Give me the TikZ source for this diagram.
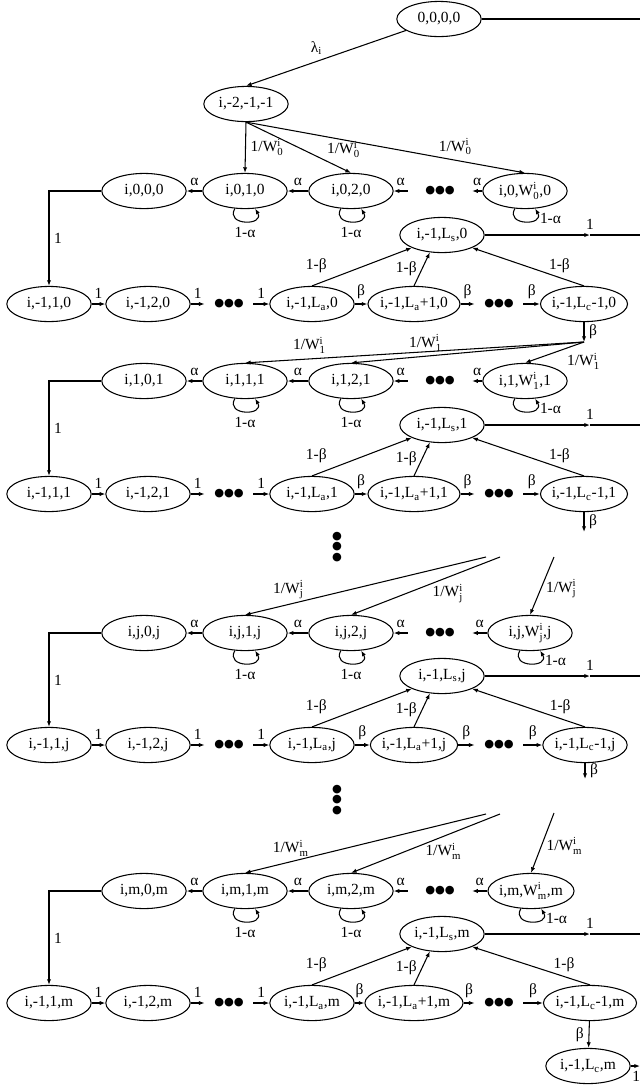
\documentclass[tikz,border=0pt]{standalone}
\usepackage{fontspec}
\setmainfont{Liberation Serif}
\newfontfamily\dotfont{DejaVu Sans}
\usetikzlibrary{arrows.meta,shapes.geometric}
\newcommand{\Wsup}[1]{$\mathrm{W}^{\mathrm{i}}_{\mathrm{#1}}$}
\tikzset{
  st/.style={draw, ellipse, minimum width=60pt, minimum height=25pt, inner xsep=-1pt, inner ysep=1pt},
  hdots/.style={inner sep=0pt, minimum width=34pt, font=\dotfont\fontsize{8}{10}\selectfont},
  vdots/.style={inner sep=0pt, align=center, font=\dotfont\fontsize{8}{7.5}\selectfont},
  selfloop/.style={->, out=-120, in=-60, distance=5mm},
}
\begin{document}
\begin{tikzpicture}[x=0.025cm, y=-0.025cm, >={Latex[length=4pt,width=3pt]}, line width=0.75pt,
  every node/.append style={font=\fontsize{11}{13}\selectfont}]
\useasboundingbox (0,0) rectangle (640,1087);

\node[st] (idle) at (439,19) {0,0,0,0};
\coordinate (idleR) at (640,19);
\node[st] (init) at (246,104) {i,-2,-1,-1};
\draw (idle) -- (idleR);
\draw[->] (idle) -- (init.north) node[midway, above left=-1pt] {λ\textsubscript{i}};

% stage 0
\node[st] (kA0) at (144,191) {i,0,0,0};
\node[st] (kA1) at (245,191) {i,0,1,0};
\node[st] (kA2) at (351,191) {i,0,2,0};
\node[hdots, minimum width=45pt] (kAd) at (440,191) {●●●};
\node[st] (kAw) at (525,191) {i,0,\Wsup{0},0};
\node[st] (sA) at (442,235) {i,-1,L\textsubscript{s},0};
\node[st] (rA1) at (49,304) {i,-1,1,0};
\node[st] (rA2) at (148,304) {i,-1,2,0};
\node[hdots] (rAd) at (229,304) {●●●};
\node[st] (rAa) at (312,304) {i,-1,L\textsubscript{a},0};
\node[st] (rAb) at (414,304) {i,-1,L\textsubscript{a}+1,0};
\node[hdots] (rAe) at (499,304) {●●●};
\node[st] (rAc) at (584,304) {i,-1,L\textsubscript{c}-1,0};
\coordinate (tA) at (590,235);
\coordinate (eA) at (640,235);
\coordinate (pA) at (584,342);

\draw[->] (init.south) -- (kA1.north) node[midway, right] {1/\Wsup{0}};
\draw[->] (init.south) -- (kA2.north) node[pos=.75, above right=-2pt] {1/\Wsup{0}};
\draw[->] (init.south) -- (kAw.north) node[pos=.75, above] {1/\Wsup{0}};
\draw[->] (kA1) -- (kA0) node[midway, above] {α};
\draw[->] (kA2) -- (kA1) node[midway, above] {α};
\draw[->] (kAd) -- (kA2) node[midway, above] {α};
\draw[->] (kAw) -- (kAd) node[midway, above] {α};
\draw[selfloop] (kA1) to node[below] {1-α} (kA1);
\draw[selfloop] (kA2) to node[below] {1-α} (kA2);
\draw[selfloop] (kAw) to node[pos=.75, right] {1-α} (kAw);
\draw[->] (kA0.west) -| (rA1.north) node[pos=.75, right] {1};
\draw[->] (rA1) -- (rA2) node[midway, above] {1};
\draw[->] (rA2) -- (rAd) node[midway, above] {1};
\draw[->] (rAd) -- (rAa) node[midway, above] {1};
\draw[->] (rAa) -- (rAb) node[midway, above] {β};
\draw[->] (rAb) -- (rAe) node[midway, above] {β};
\draw[->] (rAe) -- (rAc) node[midway, above] {β};
\draw[->] (rAa.north) -- (sA.south west) node[pos=.2, above left] {1-β};
\draw[->] (rAb.north) -- (sA.235) node[midway, left] {1-β};
\draw[->] (rAc.north) -- (sA.south east) node[pos=.22, above] {1-β};
\draw[->] (sA) -- (tA) node[above] {1};
\draw (tA) -- (eA);
\draw[->] (rAc) -- (pA) node[midway, right] {β};

% stage 1
\node[st] (kB0) at (144,381) {i,1,0,1};
\node[st] (kB1) at (245,381) {i,1,1,1};
\node[st] (kB2) at (351,381) {i,1,2,1};
\node[hdots, minimum width=45pt] (kBd) at (440,381) {●●●};
\node[st] (kBw) at (525,381) {i,1,\Wsup{1},1};
\node[st] (sB) at (442,425) {i,-1,L\textsubscript{s},1};
\node[st] (rB1) at (49,494) {i,-1,1,1};
\node[st] (rB2) at (148,494) {i,-1,2,1};
\node[hdots] (rBd) at (229,494) {●●●};
\node[st] (rBa) at (312,494) {i,-1,L\textsubscript{a},1};
\node[st] (rBb) at (414,494) {i,-1,L\textsubscript{a}+1,1};
\node[hdots] (rBe) at (499,494) {●●●};
\node[st] (rBc) at (584,494) {i,-1,L\textsubscript{c}-1,1};
\coordinate (tB) at (590,425);
\coordinate (eB) at (640,425);
\coordinate (pB) at (584,532);

\draw[->] (pA) -- (kB1.north) node[pos=.81, above] {1/\Wsup{1}};
\draw[->] (pA) -- (kB2.north) node[pos=.68, above] {1/\Wsup{1}};
\draw[->] (pA) -- (kBw.north) node[pos=.35, below right=-1pt] {1/\Wsup{1}};
\draw[->] (kB1) -- (kB0) node[midway, above] {α};
\draw[->] (kB2) -- (kB1) node[midway, above] {α};
\draw[->] (kBd) -- (kB2) node[midway, above] {α};
\draw[->] (kBw) -- (kBd) node[midway, above] {α};
\draw[selfloop] (kB1) to node[below] {1-α} (kB1);
\draw[selfloop] (kB2) to node[below] {1-α} (kB2);
\draw[selfloop] (kBw) to node[pos=.75, right] {1-α} (kBw);
\draw[->] (kB0.west) -| (rB1.north) node[pos=.75, right] {1};
\draw[->] (rB1) -- (rB2) node[midway, above] {1};
\draw[->] (rB2) -- (rBd) node[midway, above] {1};
\draw[->] (rBd) -- (rBa) node[midway, above] {1};
\draw[->] (rBa) -- (rBb) node[midway, above] {β};
\draw[->] (rBb) -- (rBe) node[midway, above] {β};
\draw[->] (rBe) -- (rBc) node[midway, above] {β};
\draw[->] (rBa.north) -- (sB.south west) node[pos=.2, above left] {1-β};
\draw[->] (rBb.north) -- (sB.235) node[midway, left] {1-β};
\draw[->] (rBc.north) -- (sB.south east) node[pos=.22, above] {1-β};
\draw[->] (sB) -- (tB) node[above] {1};
\draw (tB) -- (eB);
\draw[->] (rBc) -- (pB) node[midway, right] {β};

\node[vdots] (vd1) at (337,547) {●\\●\\●};

% stage j
\coordinate (uJ1) at (486,557);
\coordinate (uJ2) at (500,557);
\coordinate (uJ3) at (554,557);
\node[st] (kJ0) at (144,633) {i,j,0,j};
\node[st] (kJ1) at (245,633) {i,j,1,j};
\node[st] (kJ2) at (351,633) {i,j,2,j};
\node[hdots, minimum width=45pt] (kJd) at (440,633) {●●●};
\node[st] (kJw) at (530,633) {i,j,\Wsup{j},j};
\node[st] (sJ) at (442,676) {i,-1,L\textsubscript{s},j};
\node[st] (rJ1) at (49,745) {i,-1,1,j};
\node[st] (rJ2) at (148,745) {i,-1,2,j};
\node[hdots] (rJd) at (229,745) {●●●};
\node[st] (rJa) at (312,745) {i,-1,L\textsubscript{a},j};
\node[st] (rJb) at (414,745) {i,-1,L\textsubscript{a}+1,j};
\node[hdots] (rJe) at (499,745) {●●●};
\node[st] (rJc) at (585,745) {i,-1,L\textsubscript{c}-1,j};
\coordinate (tJ) at (590,676);
\coordinate (eJ) at (640,676);
\coordinate (pJ) at (585,779);

\draw[->] (uJ1) -- (kJ1.north) node[pos=.82, above] {1/\Wsup{j}};
\draw[->] (uJ2) -- (kJ2.north) node[pos=.35, below=1pt] {1/\Wsup{j}};
\draw[->] (uJ3) -- (kJw.north) node[pos=.55, right] {1/\Wsup{j}};
\draw[->] (kJ1) -- (kJ0) node[midway, above] {α};
\draw[->] (kJ2) -- (kJ1) node[midway, above] {α};
\draw[->] (kJd) -- (kJ2) node[midway, above] {α};
\draw[->] (kJw) -- (kJd) node[midway, above] {α};
\draw[selfloop] (kJ1) to node[below] {1-α} (kJ1);
\draw[selfloop] (kJ2) to node[below] {1-α} (kJ2);
\draw[selfloop] (kJw) to node[pos=.75, right] {1-α} (kJw);
\draw[->] (kJ0.west) -| (rJ1.north) node[pos=.75, right] {1};
\draw[->] (rJ1) -- (rJ2) node[midway, above] {1};
\draw[->] (rJ2) -- (rJd) node[midway, above] {1};
\draw[->] (rJd) -- (rJa) node[midway, above] {1};
\draw[->] (rJa) -- (rJb) node[midway, above] {β};
\draw[->] (rJb) -- (rJe) node[midway, above] {β};
\draw[->] (rJe) -- (rJc) node[midway, above] {β};
\draw[->] (rJa.north) -- (sJ.south west) node[pos=.2, above left] {1-β};
\draw[->] (rJb.north) -- (sJ.235) node[midway, left] {1-β};
\draw[->] (rJc.north) -- (sJ.south east) node[pos=.22, above] {1-β};
\draw[->] (sJ) -- (tJ) node[above] {1};
\draw (tJ) -- (eJ);
\draw[->] (rJc) -- (pJ) node[midway, right] {β};

\node[vdots] (vd2) at (337,800) {●\\●\\●};

% stage m
\coordinate (uM1) at (486,814);
\coordinate (uM2) at (500,814);
\coordinate (uM3) at (554,813);
\node[st] (kM0) at (144,891) {i,m,0,m};
\node[st] (kM1) at (245,891) {i,m,1,m};
\node[st] (kM2) at (351,891) {i,m,2,m};
\node[hdots, minimum width=45pt] (kMd) at (440,891) {●●●};
\node[st] (kMw) at (531,891) {i,m,\Wsup{m},m};
\node[st] (sM) at (442,934) {i,-1,L\textsubscript{s},m};
\node[st] (rM1) at (49,1003) {i,-1,1,m};
\node[st] (rM2) at (148,1003) {i,-1,2,m};
\node[hdots] (rMd) at (229,1003) {●●●};
\node[st] (rMa) at (312,1003) {i,-1,L\textsubscript{a},m};
\node[st] (rMb) at (414,1003) {i,-1,L\textsubscript{a}+1,m};
\node[hdots] (rMe) at (499,1003) {●●●};
\node[st] (rMc) at (590,1003) {i,-1,L\textsubscript{c}-1,m};
\node[st] (fin) at (588,1066) {i,-1,L\textsubscript{c},m};
\coordinate (tM) at (590,934);
\coordinate (eM) at (640,934);
\coordinate (finR) at (640,1066);

\draw[->] (uM1) -- (kM1.north) node[pos=.81, above] {1/\Wsup{m}};
\draw[->] (uM2) -- (kM2.north) node[pos=.38, below=1pt] {1/\Wsup{m}};
\draw[->] (uM3) -- (kMw.north) node[pos=.55, right] {1/\Wsup{m}};
\draw[->] (kM1) -- (kM0) node[midway, above] {α};
\draw[->] (kM2) -- (kM1) node[midway, above] {α};
\draw[->] (kMd) -- (kM2) node[midway, above] {α};
\draw[->] (kMw) -- (kMd) node[midway, above] {α};
\draw[selfloop] (kM1) to node[below] {1-α} (kM1);
\draw[selfloop] (kM2) to node[below] {1-α} (kM2);
\draw[selfloop] (kMw) to node[pos=.75, right] {1-α} (kMw);
\draw[->] (kM0.west) -| (rM1.north) node[pos=.75, right] {1};
\draw[->] (rM1) -- (rM2) node[midway, above] {1};
\draw[->] (rM2) -- (rMd) node[midway, above] {1};
\draw[->] (rMd) -- (rMa) node[midway, above] {1};
\draw[->] (rMa) -- (rMb) node[midway, above] {β};
\draw[->] (rMb) -- (rMe) node[midway, above] {β};
\draw[->] (rMe) -- (rMc) node[midway, above] {β};
\draw[->] (rMa.north) -- (sM.south west) node[pos=.2, above left] {1-β};
\draw[->] (rMb.north) -- (sM.235) node[midway, left] {1-β};
\draw[->] (rMc.north) -- (sM.south east) node[pos=.22, above] {1-β};
\draw[->] (sM) -- (tM) node[above] {1};
\draw (tM) -- (eM);
\draw[->] (rMc) -- (fin) node[midway, left] {β};
\draw[->] (fin) -- (finR) node[pos=.6, below] {1};
\end{tikzpicture}
\end{document}
